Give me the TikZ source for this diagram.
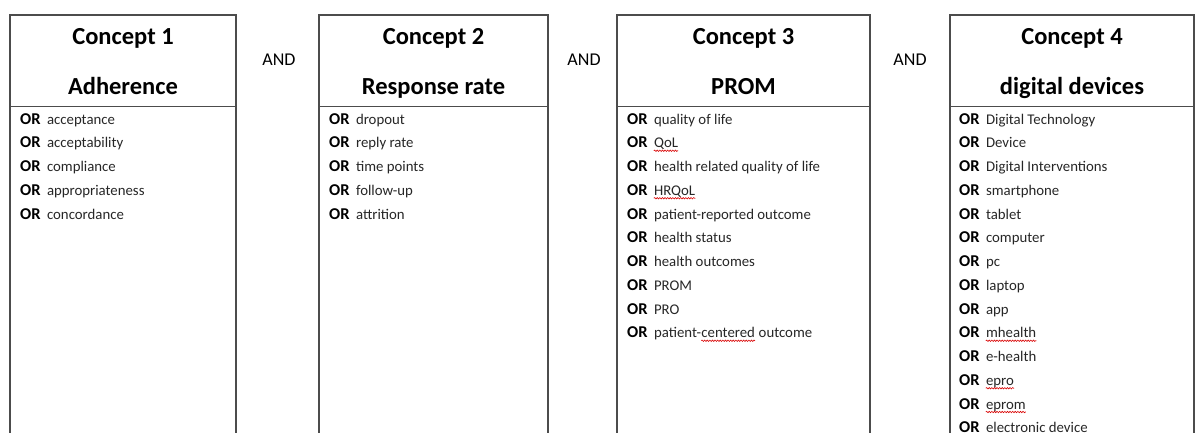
\documentclass[tikz,border=0pt]{standalone}
\usepackage{fontspec}
\setmainfont{Carlito}
\usetikzlibrary{decorations.pathmorphing}
\begin{document}
\begin{tikzpicture}[x=1pt,y=-1pt,
 boxline/.style={draw=black!70, line width=1.1pt},
 head/.style={font=\fontsize{24.5}{28}\selectfont\bfseries, inner sep=0, anchor=base},
 andlbl/.style={font=\fontsize{18}{22}\selectfont, inner sep=0, anchor=base},
 orw/.style={font=\fontsize{16.5}{18}\selectfont\bfseries, inner sep=0, anchor=base west},
 itm/.style={font=\fontsize{14.8}{16}\selectfont, text=black!85, inner sep=0, anchor=base west},
 spell/.style={draw=red!85!black, line width=0.6pt, decorate, decoration={snake, amplitude=0.7pt, segment length=2.6pt}}]
\clip (0,0) rectangle (1195,432);
% boxes
\draw[boxline] (10,440) -- (10,15) -- (236,15) -- (236,440);
\draw[boxline] (10,106.5) -- (236,106.5);
\draw[boxline] (319,440) -- (319,15) -- (548,15) -- (548,440);
\draw[boxline] (319,106.5) -- (548,106.5);
\draw[boxline] (617,440) -- (617,15) -- (870,15) -- (870,440);
\draw[boxline] (617,106.5) -- (870,106.5);
\draw[boxline] (950,440) -- (950,15) -- (1194,15) -- (1194,440);
\draw[boxline] (950,106.5) -- (1194,106.5);
% headers
\node[head] (h1) at (123,44) {Concept 1};
\node[head] (s1) at (123,94) {Adherence};
\node[head] (h2) at (433.5,44) {Concept 2};
\node[head] (s2) at (433.5,94) {Response rate};
\node[head] (h3) at (743.5,44) {Concept 3};
\node[head] (s3) at (743.5,94) {PROM};
\node[head] (h4) at (1072,44) {Concept 4};
\node[head] (s4) at (1072,94) {digital devices};
% AND
\node[andlbl] (and1) at (279,65) {AND};
\node[andlbl] (and2) at (584,65) {AND};
\node[andlbl] (and3) at (910,65) {AND};
% lists
\foreach \t [count=\i] in {acceptance,acceptability,compliance,appropriateness,concordance}{
  \node[orw] (a\i) at (20,{124+23.75*(\i-1)}) {OR};
  \node[itm] (at\i) at ([xshift=6pt]a\i.base east) {\t};
}
\foreach \t [count=\i] in {dropout,reply rate,time points,follow-up,attrition}{
  \node[orw] (b\i) at (329,{124+23.75*(\i-1)}) {OR};
  \node[itm] (bt\i) at ([xshift=6pt]b\i.base east) {\t};
}
\foreach \t [count=\i] in {quality of life,QoL,health related quality of life,HRQoL,patient-reported outcome,health status,health outcomes,PROM,PRO}{
  \node[orw] (c\i) at (627,{124+23.75*(\i-1)}) {OR};
  \node[itm] (ct\i) at ([xshift=6pt]c\i.base east) {\t};
}
\node[orw] (c10) at (627,{124+23.75*9}) {OR};
\node[itm] (ct10a) at ([xshift=6pt]c10.base east) {patient-};
\node[itm] (ct10b) at (ct10a.base east) {centered};
\node[itm] (ct10c) at (ct10b.base east) {\ outcome};
\foreach \t [count=\i] in {Digital Technology,Device,Digital Interventions,smartphone,tablet,computer,pc,laptop,app,mhealth,e-health,epro,eprom,electronic device}{
  \node[orw] (d\i) at (959,{124+23.75*(\i-1)}) {OR};
  \node[itm] (dt\i) at ([xshift=6pt]d\i.base east) {\t};
}
% spell-check underlines
\foreach \n in {ct2,ct4,ct10b,dt10,dt12,dt13}{
  \draw[spell] ([yshift=-3pt]\n.base west) -- ([yshift=-3pt]\n.base east);
}
\end{tikzpicture}
\end{document}
